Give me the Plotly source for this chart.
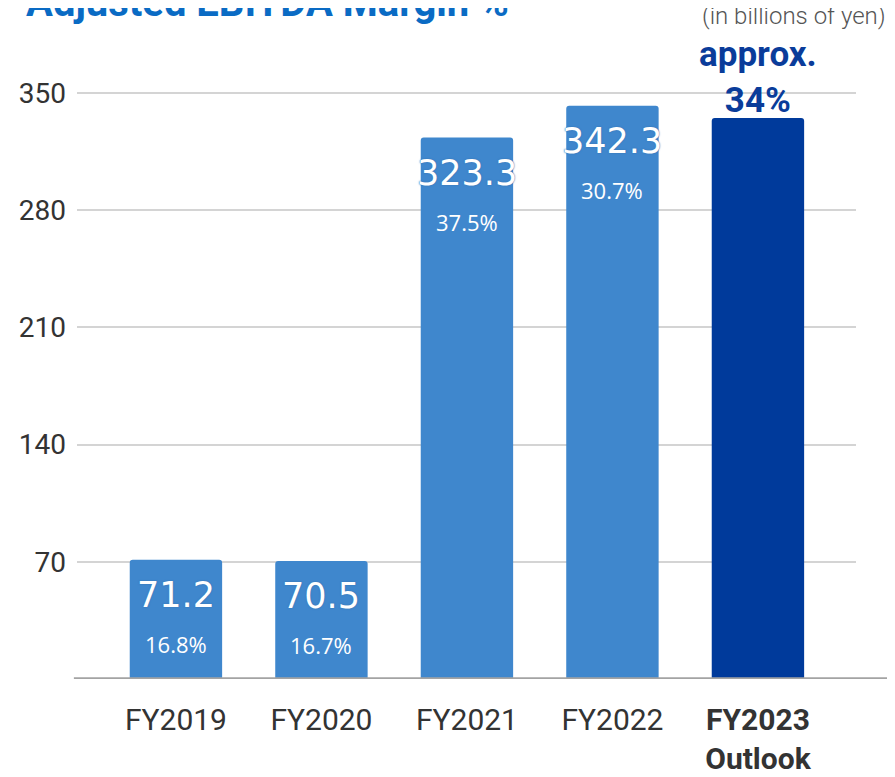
import plotly.graph_objects as go

categories = ["FY2019", "FY2020", "FY2021", "FY2022", "FY2023"]
tick_labels = ["FY2019", "FY2020", "FY2021", "FY2022", "<b>FY2023<br>Outlook</b>"]
ebitda = [71.2, 70.5, 323.3, 342.3, 335.0]
value_labels = ["71.2", "70.5", "323.3", "342.3", None]
margin_labels = ["16.8%", "16.7%", "37.5%", "30.7%", None]
outlook_label = "approx.<br>34%"
y_ticks = [70, 140, 210, 280, 350]

LIGHT = "#3f87cd"
DARK = "#003a9b"
bar_colors = [LIGHT, LIGHT, LIGHT, LIGHT, DARK]

fig = go.Figure()
fig.add_trace(go.Bar(
    x=categories, y=ebitda,
    marker=dict(color=bar_colors, line=dict(width=0), cornerradius=3),
    width=0.635,
    hoverinfo="skip",
))

annotations = []
for c, v, vl, ml in zip(categories, ebitda, value_labels, margin_labels):
    if vl is not None:
        annotations.append(dict(
            x=c, y=v, xref="x", yref="y", text=vl, showarrow=False,
            yanchor="middle", yshift=-35,
            font=dict(family="DejaVu Sans", size=35, color="white",
                      shadow="0px 0px 2px #3a78b8, 0px 0px 1px #3a78b8"),
        ))
    if ml is not None:
        annotations.append(dict(
            x=c, y=v, xref="x", yref="y", text=ml, showarrow=False,
            yanchor="middle", yshift=-84,
            font=dict(family="Open Sans", size=22, color="white"),
        ))

annotations.append(dict(
    x=categories[4], y=ebitda[4], xref="x", yref="y", text="<b>" + outlook_label + "</b>",
    showarrow=False, yanchor="middle", yshift=40,
    font=dict(family="Roboto", size=35, color="#0a3c9a"),
))

annotations.append(dict(
    x=-0.068, y=1.1046, xref="paper", yref="paper", xanchor="left", yanchor="middle",
    text="<b>Adjusted EBITDA Margin %</b>", showarrow=False,
    font=dict(family="Roboto", size=40, color="#0a6bc4"),
))
annotations.append(dict(
    x=1.041, y=1.0833, xref="paper", yref="paper", xanchor="right", yanchor="middle",
    text="(in billions of yen)", showarrow=False,
    font=dict(family="Roboto", size=24, color="#555555", weight=300),
))

fig.update_layout(
    width=895, height=777,
    margin=dict(l=69, r=47, t=59, b=106, autoexpand=False),
    paper_bgcolor="white", plot_bgcolor="white",
    showlegend=False,
    annotations=annotations,
    shapes=[dict(type="line", xref="paper", yref="y", x0=-0.004, x1=1.07, y0=0, y1=0,
                 line=dict(color="#a3a3a3", width=3.5), layer="above")],
    xaxis=dict(
        type="category", range=[-0.68, 4.674],
        tickvals=categories, ticktext=tick_labels,
        showgrid=False, zeroline=False, showline=False, ticks="",
        ticklabelstandoff=20, automargin=False,
        tickfont=dict(family="Roboto", size=30, color="#333333"),
    ),
    yaxis=dict(
        range=[0, 365.4], tickvals=y_ticks, ticktext=[str(t) for t in y_ticks],
        showgrid=True, gridcolor="#d4d4d4", gridwidth=2,
        zeroline=False, showline=False, ticks="",
        ticklabelstandoff=10, automargin=False,
        tickfont=dict(family="Roboto", size=28, color="#333333"),
    ),
)

fig.write_html("out.html")
